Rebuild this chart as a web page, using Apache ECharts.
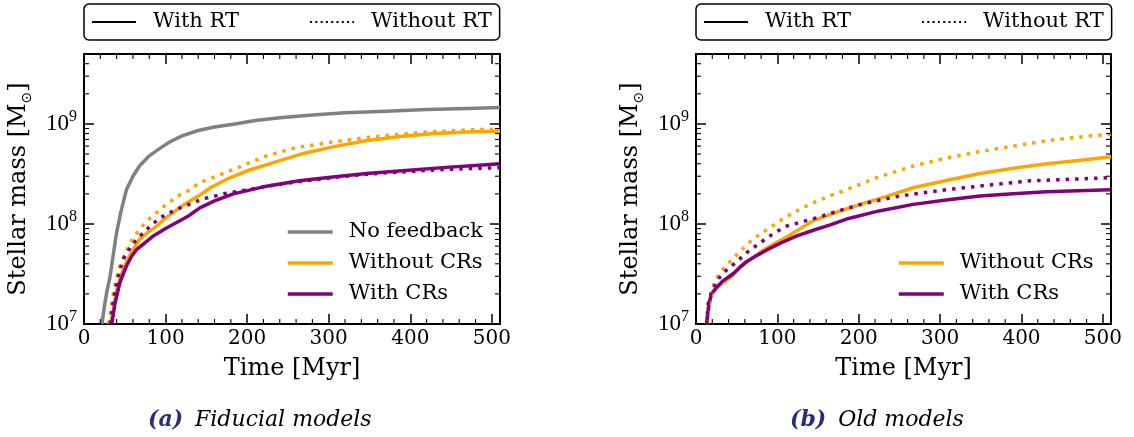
<!DOCTYPE html>
<html><head><meta charset="utf-8">
<script src="https://cdn.jsdelivr.net/npm/echarts@6/dist/echarts.min.js"></script>
<style>html,body{margin:0;padding:0;background:#fff}#c{width:1134px;height:437px}</style>
</head><body><div id="c"></div>
<script>
// ---------- data ----------
// (a) Fiducial models
const fidNoFbT = [22, 25, 28, 32, 36, 40, 45, 52, 60, 68, 80, 93, 105, 120, 140, 160, 185, 210, 240, 280, 320, 370, 420, 470, 510];
const fidNoFbV = [1.0e7, 1.5e7, 2.1e7, 3.0e7, 5.0e7, 8.2e7, 1.3e8, 2.2e8, 3.0e8, 3.8e8, 4.8e8, 5.7e8, 6.6e8, 7.6e8, 8.6e8, 9.3e8, 1.0e9, 1.08e9, 1.15e9, 1.23e9, 1.29e9, 1.34e9, 1.39e9, 1.43e9, 1.46e9];
const fidNoCrRtT = [33, 36, 40, 44, 48, 54, 60, 68, 78, 89, 100, 109, 122, 140, 155, 175, 200, 236, 270, 305, 345, 387, 430, 470, 510];
const fidNoCrRtV = [1.0e7, 1.4e7, 2.2e7, 2.8e7, 3.5e7, 4.5e7, 5.5e7, 7.0e7, 8.2e7, 9.5e7, 1.15e8, 1.3e8, 1.55e8, 1.9e8, 2.3e8, 2.8e8, 3.4e8, 4.2e8, 5.1e8, 5.9e8, 6.8e8, 7.5e8, 8.0e8, 8.3e8, 8.5e8];
const fidNoCrNoRtT = [30, 33, 36, 40, 44, 50, 60, 68, 77, 89, 101, 115, 130, 142, 160, 175, 200, 224, 260, 305, 345, 387, 430, 470, 510];
const fidNoCrNoRtV = [1.0e7, 1.4e7, 2.0e7, 2.8e7, 3.8e7, 5.0e7, 7.2e7, 8.8e7, 1.07e8, 1.3e8, 1.57e8, 1.9e8, 2.2e8, 2.6e8, 2.95e8, 3.3e8, 4.0e8, 4.8e8, 5.8e8, 6.6e8, 7.3e8, 7.9e8, 8.4e8, 8.7e8, 8.9e8];
const fidCrRtT = [34, 38, 44, 52, 58, 64, 75, 85, 100, 113, 128, 142, 160, 183, 220, 264, 305, 346, 390, 448, 480, 510];
const fidCrRtV = [1.0e7, 1.6e7, 2.6e7, 3.8e7, 4.7e7, 5.5e7, 6.5e7, 7.6e7, 9.0e7, 1.03e8, 1.2e8, 1.45e8, 1.7e8, 2.0e8, 2.35e8, 2.7e8, 2.95e8, 3.2e8, 3.4e8, 3.7e8, 3.85e8, 4.0e8];
const fidCrNoRtT = [32, 36, 40, 44, 50, 58, 66, 81, 93, 113, 146, 171, 200, 240, 280, 320, 360, 400, 440, 480, 510];
const fidCrNoRtV = [1.0e7, 1.7e7, 2.6e7, 3.5e7, 4.8e7, 6.0e7, 7.2e7, 9.5e7, 1.15e8, 1.4e8, 1.78e8, 2.0e8, 2.2e8, 2.5e8, 2.75e8, 3.0e8, 3.2e8, 3.35e8, 3.5e8, 3.6e8, 3.65e8];
// (b) Old models
const oldNoCrRtT = [13, 16, 19, 25, 33, 42, 50, 58, 70, 83, 100, 116, 144, 165, 200, 235, 267, 310, 349, 390, 431, 470, 510];
const oldNoCrRtV = [1.0e7, 1.6e7, 2.0e7, 2.3e7, 2.6e7, 2.9e7, 3.4e7, 3.9e7, 4.6e7, 5.5e7, 6.6e7, 7.8e7, 1.08e8, 1.25e8, 1.55e8, 1.9e8, 2.3e8, 2.75e8, 3.2e8, 3.6e8, 4.0e8, 4.3e8, 4.7e8];
const oldNoCrNoRtT = [13, 15, 19, 23, 28, 34, 44, 54, 66, 79, 92, 107, 124, 140, 165, 185, 222, 267, 304, 349, 390, 431, 470, 510];
const oldNoCrNoRtV = [1.0e7, 1.3e7, 2.0e7, 2.7e7, 3.1e7, 3.6e7, 4.4e7, 5.3e7, 6.6e7, 8.0e7, 9.3e7, 1.13e8, 1.35e8, 1.58e8, 1.92e8, 2.2e8, 2.9e8, 3.8e8, 4.5e8, 5.3e8, 6.0e8, 6.8e8, 7.4e8, 7.9e8];
const oldCrRtT = [13, 16, 19, 25, 33, 40, 46, 54, 62, 74, 87, 105, 124, 145, 165, 185, 225, 267, 310, 349, 390, 431, 470, 510];
const oldCrRtV = [1.0e7, 1.6e7, 2.0e7, 2.3e7, 2.7e7, 2.95e7, 3.2e7, 3.7e7, 4.2e7, 4.8e7, 5.5e7, 6.5e7, 7.6e7, 8.7e7, 9.8e7, 1.12e8, 1.35e8, 1.57e8, 1.75e8, 1.9e8, 2.0e8, 2.1e8, 2.15e8, 2.2e8];
const oldCrNoRtT = [13, 15, 19, 25, 31, 40, 50, 64, 79, 95, 111, 130, 148, 175, 206, 250, 308, 360, 411, 460, 510];
const oldCrNoRtV = [1.0e7, 1.6e7, 2.1e7, 2.6e7, 3.1e7, 3.6e7, 4.2e7, 5.3e7, 6.5e7, 8.0e7, 9.5e7, 1.05e8, 1.15e8, 1.35e8, 1.6e8, 1.9e8, 2.2e8, 2.45e8, 2.7e8, 2.8e8, 2.9e8];

// tick values
const xMinorTicks = [20, 40, 60, 80, 120, 140, 160, 180, 220, 240, 260, 280, 320, 340, 360, 380, 420, 440, 460, 480];
const yMinorTicks = [2e7, 3e7, 4e7, 5e7, 6e7, 7e7, 8e7, 9e7, 2e8, 3e8, 4e8, 5e8, 6e8, 7e8, 8e8, 9e8, 2e9, 3e9, 4e9];
const X_MIN = 0, X_MAX = 510, Y_MIN = 1e7, Y_MAX = 5e9;

const captions = [['(a)', 'Fiducial models'], ['(b)', 'Old models']];

// ---------- chart ----------
const GRAY = '#808080', ORANGE = '#ffa500', PURPLE = '#800080';
const SERIF = 'DejaVu Serif';
const LW = 3.5;

function zip(t, v) { return t.map((x, i) => [x, v[i]]); }

function lineSeries(name, t, v, color, dotted, gi) {
  return {
    type: 'line', name: name, xAxisIndex: gi * 2, yAxisIndex: gi * 2,
    data: zip(t, v), symbol: 'none', showSymbol: false, animation: false, silent: true,
    lineStyle: { color: color, width: LW, type: dotted ? [3.5, 6] : 'solid', cap: 'butt', join: 'round' },
    itemStyle: { color: color }, z: dotted ? 3 : 2
  };
}

function xMinorRender(params, api) {
  const t = api.value(0);
  const b = api.coord([t, Y_MIN]);
  const tp = api.coord([t, Y_MAX]);
  const st = { stroke: '#000', lineWidth: 1.1 };
  return { type: 'group', children: [
    { type: 'line', shape: { x1: b[0], y1: b[1], x2: b[0], y2: b[1] - 5 }, style: st },
    { type: 'line', shape: { x1: tp[0], y1: tp[1], x2: tp[0], y2: tp[1] + 5 }, style: st }
  ]};
}
function yMinorRender(params, api) {
  const v = api.value(1);
  const l = api.coord([X_MIN, v]);
  const r = api.coord([X_MAX, v]);
  const st = { stroke: '#000', lineWidth: 1.1 };
  return { type: 'group', children: [
    { type: 'line', shape: { x1: l[0], y1: l[1], x2: l[0] + 5, y2: l[1] }, style: st },
    { type: 'line', shape: { x1: r[0], y1: r[1], x2: r[0] - 5, y2: r[1] }, style: st }
  ]};
}

const axisLineStyle = { color: '#000', width: 2 };
const majorTick = { show: true, inside: true, length: 10, lineStyle: { color: '#000', width: 1.5 } };

function xAxes(gi) {
  return [{
    type: 'value', gridIndex: gi, min: X_MIN, max: X_MAX, interval: 100, position: 'bottom',
    name: 'Time [Myr]', nameLocation: 'middle', nameGap: 33,
    nameTextStyle: { fontFamily: SERIF, fontSize: 24, color: '#000' },
    axisLine: { show: true, onZero: false, lineStyle: axisLineStyle },
    axisTick: majorTick,
    axisLabel: { margin: 5, fontSize: 20, fontFamily: SERIF, color: '#000',
      formatter: v => (v % 100 === 0 ? String(v) : '') },
    splitLine: { show: false }
  }, {
    type: 'value', gridIndex: gi, min: X_MIN, max: X_MAX, interval: 100, position: 'top',
    axisLine: { show: true, onZero: false, lineStyle: axisLineStyle },
    axisTick: majorTick, axisLabel: { show: false }, splitLine: { show: false }
  }];
}
function yAxes(gi) {
  return [{
    type: 'log', logBase: 10, gridIndex: gi, min: Y_MIN, max: Y_MAX, position: 'left',
    name: '{n|Stellar mass [M}{s|⊙}{n|]}', nameLocation: 'middle', nameGap: 50,
    nameTextStyle: { color: '#000', rich: {
      n: { fontFamily: SERIF, fontSize: 24, color: '#000', lineHeight: 30 },
      s: { fontFamily: 'DejaVu Sans', fontSize: 14, color: '#000', verticalAlign: 'bottom', lineHeight: 16 }
    } },
    axisLine: { show: true, onZero: false, lineStyle: axisLineStyle },
    axisTick: majorTick,
    axisLabel: { margin: 7, color: '#000',
      formatter: v => {
        const e = Math.log10(v), r = Math.round(e);
        if (Math.abs(e - r) > 1e-6) return '';
        return '{b|10}{s|' + r + '}';
      },
      rich: {
        b: { fontFamily: 'Liberation Serif', fontSize: 23, color: '#000', lineHeight: 30 },
        s: { fontFamily: 'Liberation Serif', fontSize: 16, color: '#000', verticalAlign: 'top', lineHeight: 16 }
      } },
    splitLine: { show: false }
  }, {
    type: 'log', logBase: 10, gridIndex: gi, min: Y_MIN, max: Y_MAX, position: 'right',
    axisLine: { show: true, onZero: false, lineStyle: axisLineStyle },
    axisTick: majorTick, axisLabel: { show: false }, splitLine: { show: false }
  }];
}

function tickSeries(gi) {
  return [{
    type: 'custom', xAxisIndex: gi * 2, yAxisIndex: gi * 2, silent: true, animation: false, z: 10, clip: false,
    data: xMinorTicks.map(t => [t, Y_MIN]), renderItem: xMinorRender
  }, {
    type: 'custom', xAxisIndex: gi * 2, yAxisIndex: gi * 2, silent: true, animation: false, z: 10, clip: false,
    data: yMinorTicks.map(v => [X_MIN, v]), renderItem: yMinorRender
  }];
}

const topLegendBase = {
  top: 4, orient: 'horizontal', selectedMode: false,
  data: ['With RT', 'Without RT'],
  itemWidth: 44, itemHeight: 14, itemGap: 70,
  padding: [6, 8, 6, 7],
  borderColor: '#000', borderWidth: 1.5, borderRadius: 5,
  lineStyle: { width: 2 },
  itemStyle: { opacity: 0, color: 'rgba(0,0,0,0)', borderWidth: 0 },
  textStyle: { fontFamily: SERIF, fontSize: 21, color: '#000', lineHeight: 24, padding: [0, 0, 0, 12] }
};
const innerLegendBase = {
  orient: 'vertical', selectedMode: false,
  itemWidth: 45, itemHeight: 14, itemGap: 7, padding: 0,
  lineStyle: { width: LW },
  itemStyle: { opacity: 0, color: 'rgba(0,0,0,0)', borderWidth: 0 },
  textStyle: { fontFamily: SERIF, fontSize: 21, color: '#000', lineHeight: 24, padding: [0, 0, 0, 11] }
};

const series = [
  { type: 'line', name: 'With RT', data: [], xAxisIndex: 0, yAxisIndex: 0, symbol: 'none',
    lineStyle: { color: '#000', width: 2, type: 'solid' }, itemStyle: { color: '#000' } },
  { type: 'line', name: 'Without RT', data: [], xAxisIndex: 0, yAxisIndex: 0, symbol: 'none',
    lineStyle: { color: '#000', width: 2, type: [2, 3.3] }, itemStyle: { color: '#000' } },
  lineSeries('No feedback', fidNoFbT, fidNoFbV, GRAY, false, 0),
  lineSeries('Without CRs', fidNoCrRtT, fidNoCrRtV, ORANGE, false, 0),
  lineSeries('With CRs', fidCrRtT, fidCrRtV, PURPLE, false, 0),
  lineSeries('Without CRs', fidNoCrNoRtT, fidNoCrNoRtV, ORANGE, true, 0),
  lineSeries('With CRs', fidCrNoRtT, fidCrNoRtV, PURPLE, true, 0),
  lineSeries('Without CRs', oldNoCrRtT, oldNoCrRtV, ORANGE, false, 1),
  lineSeries('With CRs', oldCrRtT, oldCrRtV, PURPLE, false, 1),
  lineSeries('Without CRs', oldNoCrNoRtT, oldNoCrNoRtV, ORANGE, true, 1),
  lineSeries('With CRs', oldCrNoRtT, oldCrNoRtV, PURPLE, true, 1),
  ...tickSeries(0), ...tickSeries(1)
];

function captionGraphic(i, left) {
  return {
    type: 'text', left: left, top: 409, silent: true,
    style: {
      text: '{a|' + captions[i][0] + '}{b|' + captions[i][1] + '}',
      rich: {
        a: { fontFamily: SERIF, fontStyle: 'italic', fontWeight: 'bold', fontSize: 22, fill: '#2b2b7f' },
        b: { fontFamily: SERIF, fontStyle: 'italic', fontSize: 22, fill: '#000', padding: [0, 0, 0, 12] }
      }
    }
  };
}

const chart = echarts.init(document.getElementById('c'), null, { renderer: 'canvas' });
chart.setOption({
  animation: false,
  backgroundColor: '#fff',
  textStyle: { fontFamily: SERIF },
  grid: [
    { left: 84, right: 634, top: 54, bottom: 113, containLabel: false },
    { left: 696, right: 23, top: 54, bottom: 113, containLabel: false }
  ],
  xAxis: [...xAxes(0), ...xAxes(1)],
  yAxis: [...yAxes(0), ...yAxes(1)],
  legend: [
    Object.assign({}, topLegendBase, { left: 84 }),
    Object.assign({}, topLegendBase, { left: 696 }),
    Object.assign({}, innerLegendBase, { left: 286, top: 220, data: ['No feedback', 'Without CRs', 'With CRs'] }),
    Object.assign({}, innerLegendBase, { left: 897, top: 251, data: ['Without CRs', 'With CRs'] })
  ],
  graphic: [captionGraphic(0, 148), captionGraphic(1, 790)],
  series: series
});
</script></body></html>
